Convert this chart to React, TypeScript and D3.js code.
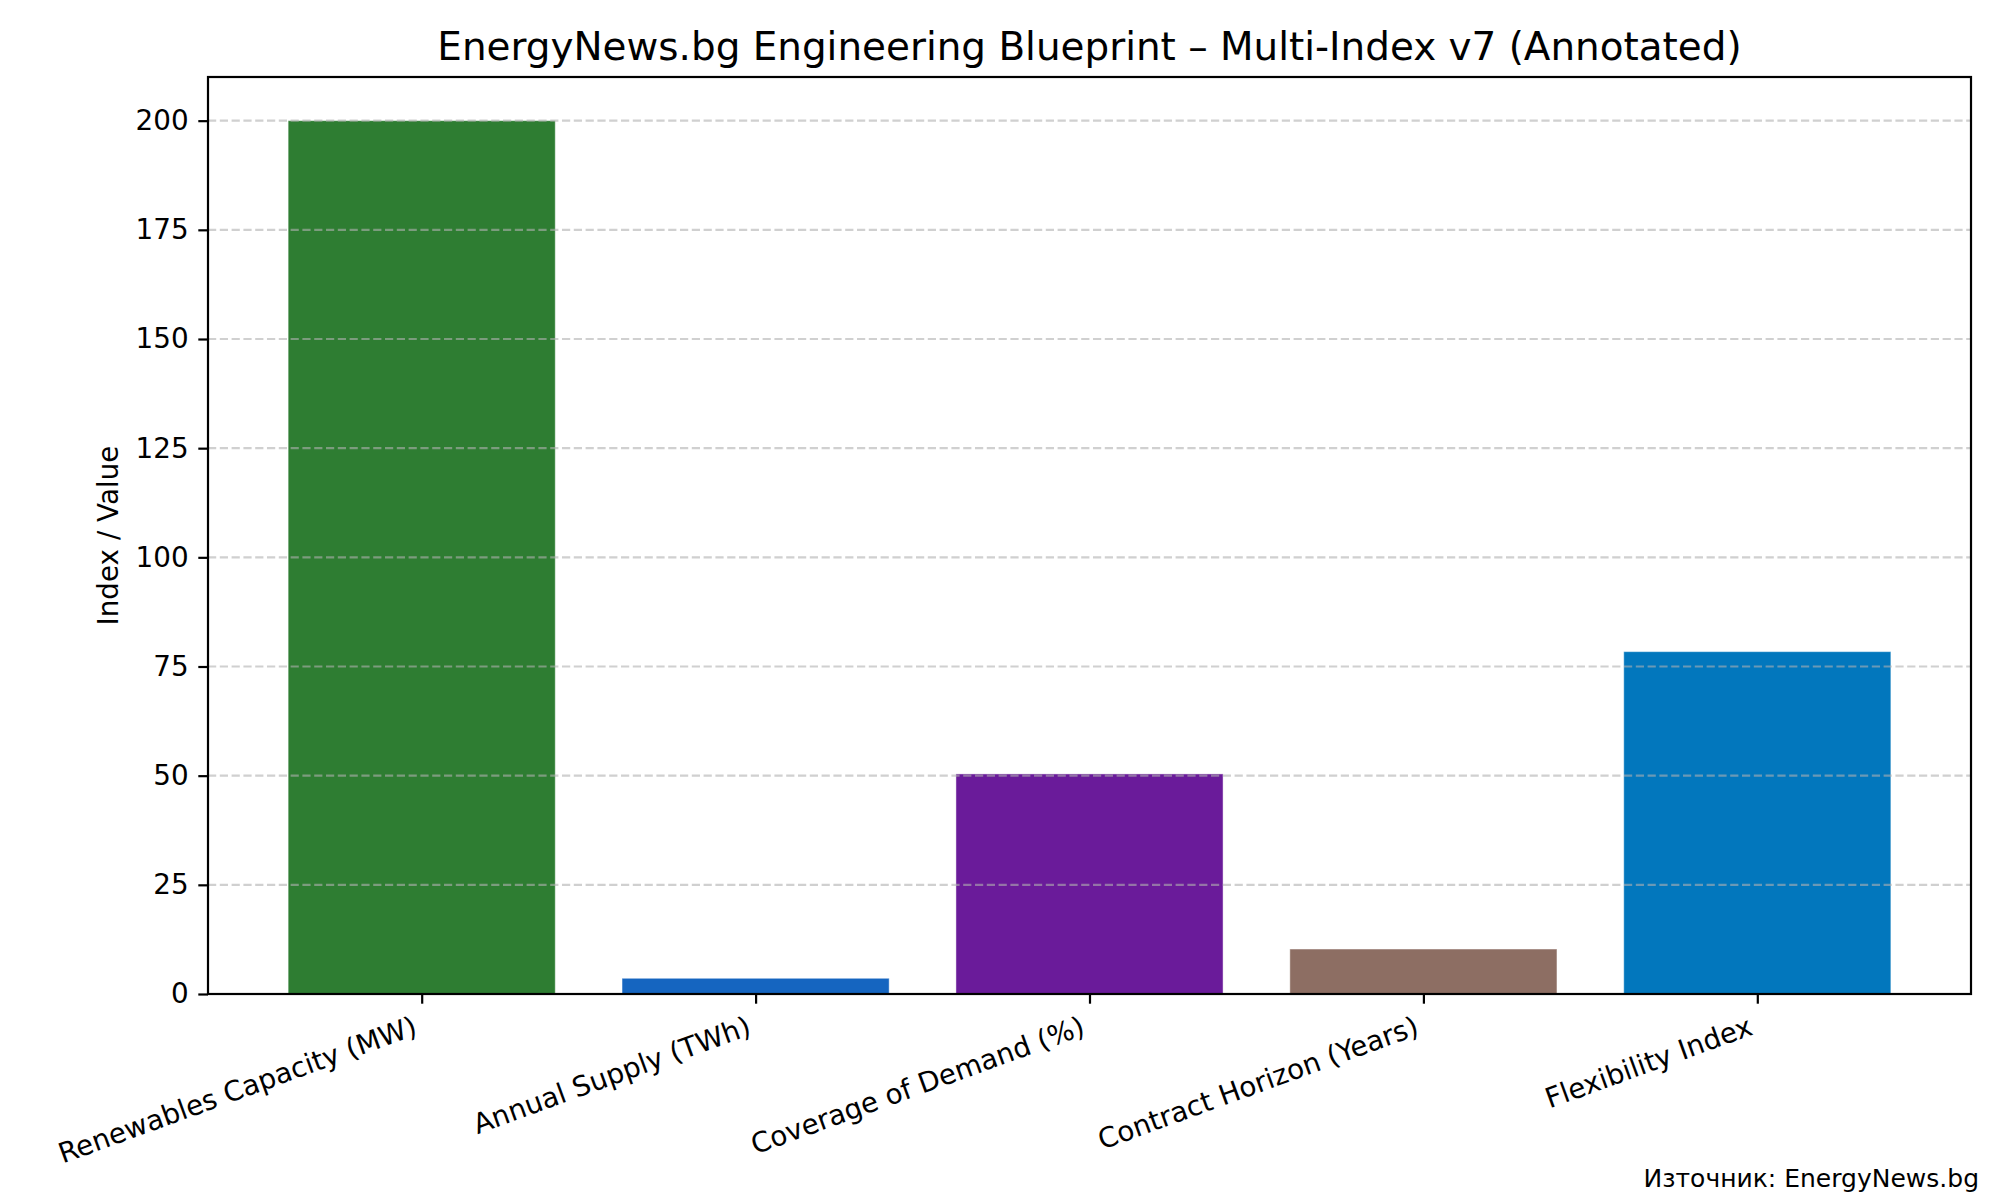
import * as d3 from "d3";
import { useEffect, useRef } from "react";

const width = 2000;
const height = 1200;
const margin = { top: 77, right: 29, bottom: 206, left: 208 };

const categories = [
  "Renewables Capacity (MW)",
  "Annual Supply (TWh)",
  "Coverage of Demand (%)",
  "Contract Horizon (Years)",
  "Flexibility Index",
];
const values = [200, 3.6, 50.4, 10.3, 78.4];
const barColors = ["#2e7d32", "#1565c0", "#6a1b9a", "#8d6e63", "#0277bd"];
const yTicks = [0, 25, 50, 75, 100, 125, 150, 175, 200];

const title = "EnergyNews.bg Engineering Blueprint – Multi-Index v7 (Annotated)";
const yLabel = "Index / Value";
const sourceText = "Източник: EnergyNews.bg";

const font = "DejaVu Sans, sans-serif";

function drawChart(el: SVGSVGElement) {
  const svg = d3.select(el);
  svg.selectAll("*").remove();

  const innerW = width - margin.left - margin.right;
  const innerH = height - margin.top - margin.bottom;

  // matplotlib style limits: bars are 0.8 wide, 5% margin on each side
  const x = d3
    .scaleLinear()
    .domain([-0.64, categories.length - 1 + 0.64])
    .range([0, innerW]);
  const y = d3.scaleLinear().domain([0, 210]).range([innerH, 0]);

  svg
    .append("rect")
    .attr("width", width)
    .attr("height", height)
    .attr("fill", "white");

  const g = svg
    .append("g")
    .attr("transform", `translate(${margin.left},${margin.top})`);

  // bars
  g.selectAll("rect.bar")
    .data(values)
    .enter()
    .append("rect")
    .classed("bar", true)
    .attr("x", (d, i) => x(i - 0.4))
    .attr("width", x(0.4) - x(-0.4))
    .attr("y", (d) => y(d))
    .attr("height", (d) => y(0) - y(d))
    .attr("fill", (d, i) => barColors[i])
    .attr("stroke", "white")
    .attr("stroke-opacity", 0.45)
    .attr("stroke-width", 1);

  // grid goes over the bars, like matplotlib
  g.selectAll("line.grid")
    .data(yTicks)
    .enter()
    .append("line")
    .classed("grid", true)
    .attr("x1", 0)
    .attr("x2", innerW)
    .attr("y1", (d) => y(d))
    .attr("y2", (d) => y(d))
    .attr("stroke", "#b0b0b0")
    .attr("stroke-opacity", 0.6)
    .attr("stroke-width", 2.2)
    .attr("stroke-dasharray", "8.2,3.6");

  // y axis
  const yAxis = g
    .append("g")
    .call(
      d3
        .axisLeft(y)
        .tickValues(yTicks)
        .tickSize(9.7)
        .tickPadding(9.7)
        .tickFormat(d3.format("d"))
    );
  yAxis.select(".domain").remove();
  yAxis.selectAll("line").attr("stroke", "black").attr("stroke-width", 2.2);
  yAxis
    .selectAll("text")
    .attr("font-family", font)
    .attr("font-size", 27.8)
    .attr("fill", "black");

  // x axis
  const xAxis = g
    .append("g")
    .attr("transform", `translate(0,${innerH})`)
    .call(
      d3
        .axisBottom(x)
        .tickValues(d3.range(categories.length))
        .tickSize(9.7)
        .tickFormat(() => "")
    );
  xAxis.select(".domain").remove();
  xAxis.selectAll("line").attr("stroke", "black").attr("stroke-width", 2.2);

  g.selectAll("text.xlabel")
    .data(categories)
    .enter()
    .append("text")
    .classed("xlabel", true)
    .attr(
      "transform",
      (d, i) => `translate(${x(i) - 3},${innerH + 40}) rotate(-20)`
    )
    .attr("text-anchor", "end")
    .attr("font-family", font)
    .attr("font-size", 27.8)
    .attr("fill", "black")
    .text((d) => d);

  // frame
  g.append("rect")
    .attr("width", innerW)
    .attr("height", innerH)
    .attr("fill", "none")
    .attr("stroke", "black")
    .attr("stroke-width", 2.2);

  // title
  svg
    .append("text")
    .attr("x", margin.left + innerW / 2)
    .attr("y", 60)
    .attr("text-anchor", "middle")
    .attr("font-family", font)
    .attr("font-size", 38.9)
    .attr("fill", "black")
    .text(title);

  // y label
  svg
    .append("text")
    .attr(
      "transform",
      `translate(118,${margin.top + innerH / 2}) rotate(-90)`
    )
    .attr("text-anchor", "middle")
    .attr("font-family", font)
    .attr("font-size", 27.8)
    .attr("fill", "black")
    .text(yLabel);

  // source note, bottom right
  svg
    .append("text")
    .attr("x", 1979)
    .attr("y", 1187)
    .attr("text-anchor", "end")
    .attr("font-family", font)
    .attr("font-size", 25)
    .attr("fill", "black")
    .text(sourceText);
}

export default function App() {
  const ref = useRef<SVGSVGElement>(null);

  useEffect(() => {
    document.body.style.margin = "0";
    if (ref.current) drawChart(ref.current);
  }, []);

  return (
    <svg
      ref={ref}
      width={width}
      height={height}
      style={{ display: "block" }}
    ></svg>
  );
}
